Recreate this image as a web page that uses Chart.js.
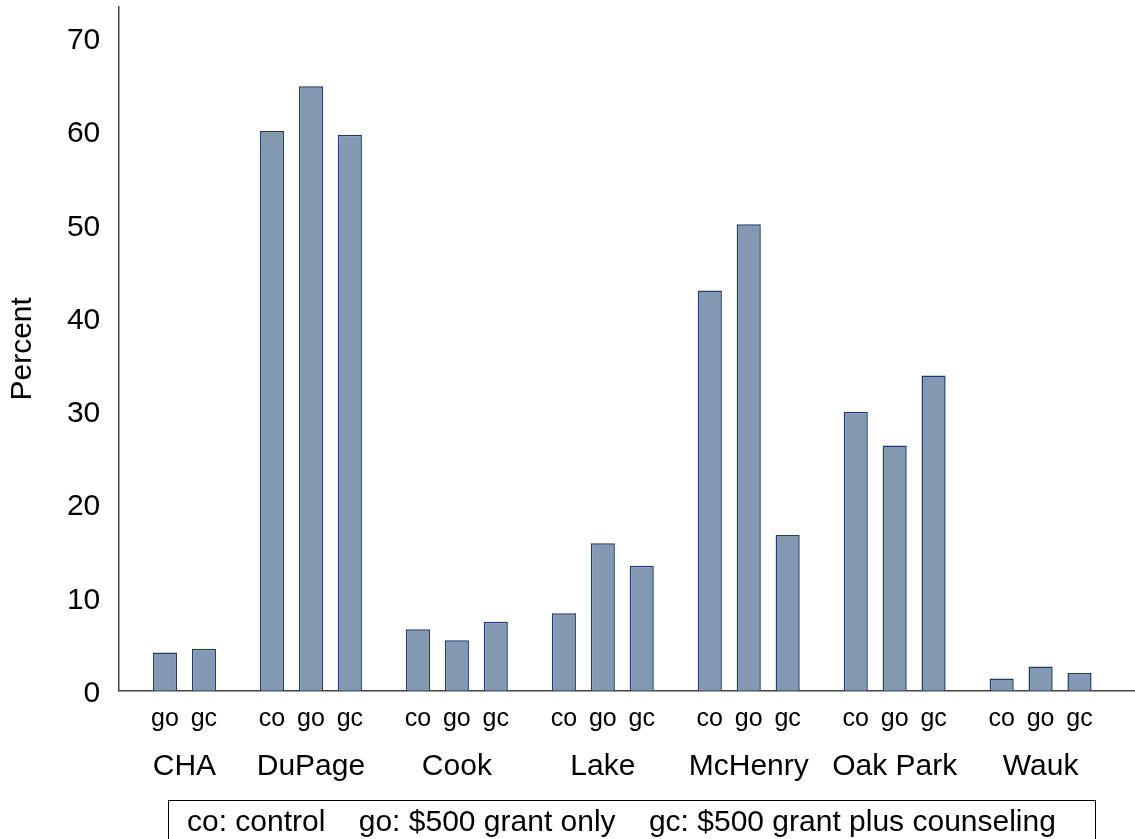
<!DOCTYPE html>
<html>
<head>
<meta charset="utf-8">
<script src="https://cdn.jsdelivr.net/npm/chart.js@4.4.1/dist/chart.umd.min.js"></script>
<style>
  html, body { margin: 0; padding: 0; background: #fff; }
  #wrap { width: 1135px; height: 839px; }
</style>
</head>
<body>
<div id="wrap"><canvas id="chart"></canvas></div>
<script>
const groups = ['CHA', 'DuPage', 'Cook', 'Lake', 'McHenry', 'Oak Park', 'Wauk'];
const codes = ['co', 'go', 'gc'];
const seriesNames = ['co: control', 'go: $500 grant only', 'gc: $500 grant plus counseling'];
const control = [null, 60.0, 6.6, 8.3, 42.9, 29.9, 1.3];
const grantOnly = [4.1, 64.8, 5.4, 15.8, 50.0, 26.3, 2.6];
const grantCounsel = [4.5, 59.6, 7.4, 13.4, 16.7, 33.8, 1.9];
const yTicks = [0, 10, 20, 30, 40, 50, 60, 70];

const FONT = 'Liberation Sans, Arial, sans-serif';
const fill = '#8398b1';
const edge = '#1c3c6c';

function points(values) {
    return values.map((v, i) => ({ x: i, y: v }));
}

// co / go / gc under each bar, group names under the bars they have,
// and the boxed key at the bottom
const labelPlugin = {
    id: 'subLabels',
    afterDraw(chart) {
        const ctx = chart.ctx;
        const area = chart.chartArea;
        const xs = groups.map(() => []);
        ctx.save();
        ctx.fillStyle = '#000';
        ctx.font = '25px ' + FONT;
        ctx.textAlign = 'center';
        ctx.textBaseline = 'middle';
        chart.data.datasets.forEach((ds, d) => {
            const meta = chart.getDatasetMeta(d);
            meta.data.forEach((bar, i) => {
                if (ds.data[i].y == null) return;
                xs[i].push(bar.x);
                ctx.fillText(codes[d], bar.x, area.bottom + 28);
            });
        });

        ctx.font = '30px ' + FONT;
        groups.forEach((g, i) => {
            const mid = xs[i].reduce((a, b) => a + b, 0) / xs[i].length;
            ctx.fillText(g, mid, area.bottom + 76);
        });

        // key box
        ctx.strokeStyle = '#000';
        ctx.lineWidth = 1;
        ctx.strokeRect(168.5, 800.5, 927, 60);
        ctx.textAlign = 'left';
        ctx.textBaseline = 'alphabetic';
        const gap = ctx.measureText('    ').width;
        let x = 187;
        chart.data.datasets.forEach(ds => {
            ctx.fillText(ds.label, x, 831);
            x += ctx.measureText(ds.label).width + gap;
        });
        ctx.restore();
    }
};

new Chart(document.getElementById('chart').getContext('2d'), {
    type: 'bar',
    data: {
        datasets: [
            { label: seriesNames[0], data: points(control) },
            { label: seriesNames[1], data: points(grantOnly) },
            { label: seriesNames[2], data: points(grantCounsel) }
        ].map(ds => Object.assign(ds, {
            backgroundColor: fill,
            borderColor: edge,
            borderWidth: 1.5,
            categoryPercentage: 0.8,
            barPercentage: 0.62
        }))
    },
    options: {
        responsive: true,
        maintainAspectRatio: false,
        animation: false,
        layout: { padding: { top: 7, right: 1, left: 0, bottom: 0 } },
        plugins: {
            legend: { display: false },
            tooltip: { enabled: false }
        },
        scales: {
            x: {
                type: 'linear',
                min: -0.32,
                max: 6.64,
                offset: false,
                grid: { display: false, drawTicks: false },
                border: { display: true, color: '#444', width: 1.5 },
                afterBuildTicks: scale => { scale.ticks = groups.map((g, i) => ({ value: i })); },
                afterFit: scale => {
                    scale.height = 148.3;
                    scale.paddingLeft = 0;
                    scale.paddingRight = 0;
                },
                ticks: { display: false }
            },
            y: {
                min: 0,
                max: 73.3,
                grid: { display: false, drawTicks: false },
                border: { display: true, color: '#444', width: 1.5 },
                afterBuildTicks: scale => { scale.ticks = yTicks.map(v => ({ value: v })); },
                afterFit: scale => {
                    scale.width = 118.3;
                    scale.paddingTop = 0;
                    scale.paddingBottom = 0;
                },
                title: {
                    display: true,
                    text: 'Percent',
                    color: '#000',
                    font: { family: FONT, size: 30 },
                    padding: { top: 5, bottom: 0 }
                },
                ticks: {
                    color: '#000',
                    font: { family: FONT, size: 30 },
                    padding: 18,
                    labelOffset: 3
                }
            }
        }
    },
    plugins: [labelPlugin]
});
</script>
</body>
</html>
